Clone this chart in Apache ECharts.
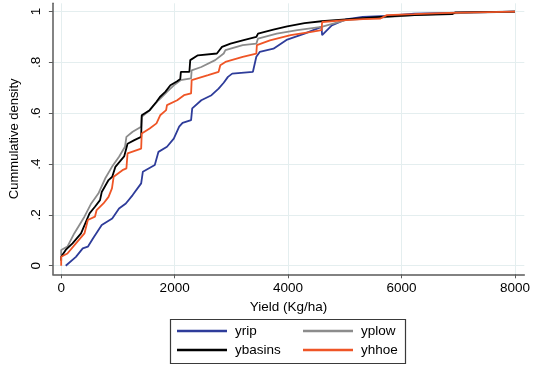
<!DOCTYPE html>
<html>
<head>
<meta charset="utf-8">
<script src="https://cdn.jsdelivr.net/npm/echarts@6/dist/echarts.min.js"></script>
<style>html,body{margin:0;padding:0;background:#fff;}#c{width:541px;height:366px;}</style>
</head>
<body>
<div id="c"></div>
<script>
// Series names (legend order)
const seriesNames = ['yrip', 'yplow', 'ybasins', 'yhhoe'];
const seriesColors = ['#2e3c9a', '#8c8c8c', '#000000', '#ef5526'];

// Tick values / labels
const xTicks = [0, 2000, 4000, 6000, 8000];
const xTickLabels = ['0', '2000', '4000', '6000', '8000'];
const yTicks = [0, 0.2, 0.4, 0.6, 0.8, 1];
const yTickLabels = ['0', '.2', '.4', '.6', '.8', '1'];

// yrip
const yripX = [80, 260, 380, 470, 560, 715, 900, 1020, 1140, 1260, 1410, 1440, 1650, 1715, 1865, 1985, 2080, 2140, 2290, 2310, 2470, 2650, 2775, 2865, 2940, 3015, 3380, 3440, 3500, 3742, 3985, 4290, 4590, 4600, 4770, 5015, 5317, 5740, 6225, 6830, 8000];
const yripY = [0, 0.035, 0.068, 0.075, 0.107, 0.16, 0.186, 0.225, 0.245, 0.278, 0.324, 0.37, 0.396, 0.448, 0.468, 0.5, 0.547, 0.562, 0.573, 0.619, 0.651, 0.671, 0.697, 0.72, 0.743, 0.756, 0.763, 0.822, 0.841, 0.854, 0.89, 0.913, 0.94, 0.907, 0.946, 0.969, 0.979, 0.983, 0.992, 0.995, 1];

// yplow
const yplowX = [0, 0, 110, 230, 410, 530, 655, 775, 895, 1020, 1125, 1150, 1260, 1410, 1420, 1560, 1715, 1865, 1985, 2105, 2290, 2300, 2470, 2715, 2865, 2895, 3200, 3440, 3470, 3800, 4165, 4590, 5015, 5620, 6225, 6890, 8000];
const yplowY = [0.04, 0.062, 0.075, 0.127, 0.193, 0.245, 0.284, 0.343, 0.389, 0.429, 0.468, 0.507, 0.527, 0.547, 0.586, 0.612, 0.651, 0.684, 0.71, 0.73, 0.737, 0.769, 0.782, 0.809, 0.835, 0.848, 0.868, 0.874, 0.894, 0.913, 0.927, 0.94, 0.966, 0.976, 0.986, 0.993, 1];

// ybasins
const ybasinsX = [0, 0, 80, 200, 350, 500, 595, 685, 715, 835, 900, 955, 1110, 1170, 1290, 1410, 1420, 1560, 1680, 1740, 1835, 1925, 2045, 2100, 2110, 2260, 2275, 2410, 2745, 2835, 2985, 3200, 3440, 3470, 3740, 3985, 4290, 4590, 5015, 5620, 6225, 6890, 6950, 8000];
const ybasinsY = [0.02, 0.035, 0.062, 0.088, 0.127, 0.206, 0.232, 0.258, 0.29, 0.337, 0.35, 0.389, 0.43, 0.48, 0.494, 0.507, 0.592, 0.612, 0.645, 0.664, 0.684, 0.71, 0.726, 0.735, 0.763, 0.763, 0.809, 0.828, 0.835, 0.861, 0.874, 0.887, 0.9, 0.913, 0.929, 0.942, 0.955, 0.962, 0.969, 0.979, 0.986, 0.99, 0.997, 1];

// yhhoe
const yhhoeX = [0, 0, 110, 260, 410, 470, 595, 625, 745, 835, 895, 925, 1080, 1150, 1170, 1410, 1420, 1560, 1680, 1745, 1850, 1865, 2045, 2165, 2290, 2300, 2590, 2775, 2805, 2895, 3200, 3440, 3450, 3680, 4045, 4410, 4590, 4600, 5015, 5320, 5620, 5740, 6225, 6830, 8000];
const yhhoeY = [0, 0.035, 0.048, 0.088, 0.127, 0.18, 0.193, 0.219, 0.245, 0.271, 0.304, 0.35, 0.376, 0.383, 0.442, 0.461, 0.52, 0.54, 0.56, 0.592, 0.612, 0.632, 0.651, 0.671, 0.678, 0.73, 0.75, 0.763, 0.789, 0.802, 0.822, 0.835, 0.868, 0.887, 0.907, 0.92, 0.927, 0.959, 0.966, 0.97, 0.972, 0.986, 0.99, 0.995, 1];

const xs = {yrip: yripX, yplow: yplowX, ybasins: ybasinsX, yhhoe: yhhoeX};
const ys = {yrip: yripY, yplow: yplowY, ybasins: ybasinsY, yhhoe: yhhoeY};

const FONT = 'Liberation Sans, Arial, Helvetica, sans-serif';
const axisColor = '#5a5a5a';
const gridColor = '#e4eeef';

const series = seriesNames.map((n, i) => ({
  name: n,
  type: 'line',
  showSymbol: false,
  symbol: 'none',
  animation: false,
  lineStyle: {color: seriesColors[i], width: 1.8},
  itemStyle: {color: seriesColors[i]},
  data: xs[n].map((x, k) => [x, ys[n][k]])
}));

function tickLabel(ticks, labels) {
  return v => { const i = ticks.findIndex(t => Math.abs(t - v) < 1e-9); return i >= 0 ? labels[i] : ''; };
}

// legend positions (two columns, two rows)
const legendPos = {
  yrip: {left: 177, top: 324},
  yplow: {left: 303, top: 324},
  ybasins: {left: 177, top: 343},
  yhhoe: {left: 303, top: 343}
};
const legends = seriesNames.map(n => ({
  data: [n],
  left: legendPos[n].left,
  top: legendPos[n].top,
  padding: 0,
  icon: 'rect',
  itemWidth: 50,
  itemHeight: 2.5,
  selectedMode: false,
  textStyle: {fontFamily: FONT, fontSize: 13.5, color: '#000', padding: [0, 0, 0, 3]}
}));

const chart = echarts.init(document.getElementById('c'), null, {renderer: 'canvas'});
chart.setOption({
  animation: false,
  backgroundColor: '#ffffff',
  grid: {left: 51, right: 16.7, top: 3.3, bottom: 91.7, containLabel: false},
  xAxis: {
    type: 'value',
    min: -146,
    max: 8164,
    name: 'Yield (Kg/ha)',
    nameLocation: 'middle',
    nameGap: 22,
    nameTextStyle: {fontFamily: FONT, fontSize: 13.5, color: '#000'},
    axisLine: {show: true, onZero: false, lineStyle: {color: axisColor, width: 1.5}},
    axisTick: {show: true, length: 4, customValues: xTicks, lineStyle: {color: axisColor, width: 1}},
    axisLabel: {customValues: xTicks, margin: 7, fontFamily: FONT, fontSize: 13.5, color: '#000',
      formatter: tickLabel(xTicks, xTickLabels)},
    splitLine: {show: true, lineStyle: {color: gridColor, width: 1}}
  },
  yAxis: {
    type: 'value',
    min: -0.0338,
    max: 1.0326,
    name: 'Cummulative density',
    nameLocation: 'middle',
    nameGap: 25,
    nameTextStyle: {fontFamily: FONT, fontSize: 13, color: '#000'},
    axisLine: {show: true, onZero: false, lineStyle: {color: axisColor, width: 1.5}},
    axisTick: {show: true, length: 4, customValues: yTicks, lineStyle: {color: axisColor, width: 1}},
    axisLabel: {
      customValues: yTicks, rotate: 90, margin: 10,
      fontFamily: FONT, fontSize: 13.5, color: '#000',
      formatter: tickLabel(yTicks, yTickLabels)
    },
    splitLine: {show: true, lineStyle: {color: gridColor, width: 1}}
  },
  legend: legends,
  graphic: [{
    type: 'rect',
    shape: {x: 170.5, y: 319.5, width: 235, height: 44},
    style: {fill: 'none', stroke: '#3a3a3a', lineWidth: 1.2},
    silent: true
  }],
  series: series
});
</script>
</body>
</html>
